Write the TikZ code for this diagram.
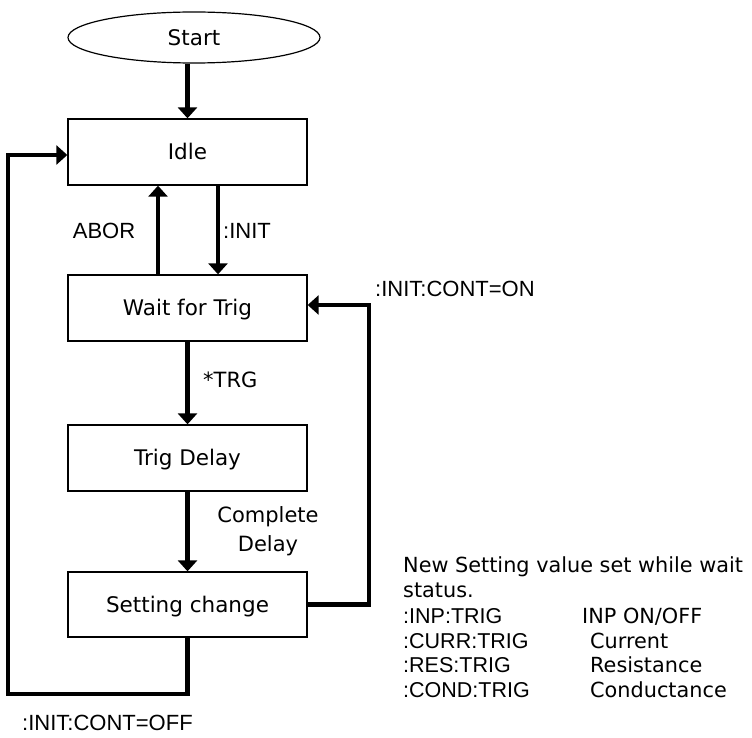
\documentclass[tikz,border=0pt]{standalone}
\usepackage{fontspec}
\setmainfont{Liberation Sans}
\newfontfamily\gothic{DejaVu Sans}
\usetikzlibrary{arrows.meta,shapes.geometric}
\begin{document}
\begin{tikzpicture}[x=1pt,y=1pt,
  boxnode/.style={draw,line width=1.3pt,minimum width=239pt,minimum height=66pt,inner sep=0pt,
    font=\gothic\fontsize{21.5}{25}\selectfont,text height=15.5pt,text depth=0pt},
  arr/.style={line width=4.5pt,line join=miter,-{Triangle[width=19pt,length=11pt]}},
  lab/.style={inner sep=0pt,anchor=base west,font=\fontsize{22}{26}\selectfont},
  glab/.style={inner sep=0pt,anchor=base west,font=\gothic\fontsize{21}{25}\selectfont},
  note/.style={inner sep=0pt,anchor=base west,font=\gothic\fontsize{20.8}{25}\selectfont},
  cmd/.style={inner sep=0pt,anchor=base west,font=\fontsize{21.5}{25}\selectfont},
]
\useasboundingbox (0,0) rectangle (752,-738);
\fill[white] (0,0) rectangle (752,-738);
\node[ellipse,draw,line width=1.2pt,minimum width=252pt,minimum height=51pt,inner sep=0pt,
  font=\gothic\fontsize{21.5}{25}\selectfont,text height=16pt,text depth=0pt] (start) at (194,-37.5) {Start};
\node[boxnode] (idle) at (187.5,-152) {Idle};
\node[boxnode] (wait) at (187.5,-308) {Wait for Trig};
\node[boxnode] (delay) at (187.5,-458) {Trig Delay};
\node[boxnode,minimum height=65pt] (setting) at (187.5,-604.5) {Setting change};
\coordinate (bl) at (8,-694);
\coordinate (br) at (369,-604.5);
\draw[arr] (idle.north |- start.south) -- (idle.north);
\draw[arr] ([xshift=-29.5pt]wait.north) -- ([xshift=-29.5pt]idle.south);
\draw[arr] ([xshift=30.5pt]idle.south) -- ([xshift=30.5pt]wait.north);
\draw[arr] (wait.south) -- (delay.north);
\draw[arr] (delay.south) -- (setting.north);
\draw[arr] (setting.south) |- (bl) |- ([yshift=-3pt]idle.west);
\draw[arr] (setting.east) -- (br) |- ([yshift=3pt]wait.east);
\node[lab,anchor=base] (abor) at (104,-238) {ABOR};
\node[lab] (init) at (223,-238) {:INIT};
\node[lab] (conton) at (375,-296.7) {:INIT:CONT=ON};
\node[glab] (trg) at (203,-387) {*TRG};
\node[glab,anchor=base] (c1) at (268,-522) {Complete};
\node[glab,anchor=base] (c2) at (268,-551) {Delay};
\node[lab] (contoff) at (22,-730) {:INIT:CONT=OFF};
\node[note] (n1) at (403,-572) {New Setting value set while wait};
\node[note] (n2) at (403,-597) {status.};
\node[cmd] (c3) at (403,-623) {:INP:TRIG};
\node[note] (d3) at (582,-623) {INP ON/OFF};
\node[cmd] (c4) at (403,-648) {:CURR:TRIG};
\node[note] (d4) at (590,-648) {Current};
\node[cmd] (c5) at (403,-672) {:RES:TRIG};
\node[note] (d5) at (590,-672) {Resistance};
\node[cmd] (c6) at (403,-697) {:COND:TRIG};
\node[note] (d6) at (590,-697) {Conductance};
\end{tikzpicture}
\end{document}
